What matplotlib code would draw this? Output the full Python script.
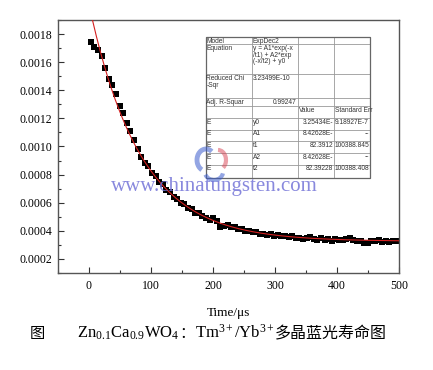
import numpy as np
import matplotlib
matplotlib.use('Agg')
from matplotlib import pyplot as plt
from matplotlib.patches import Rectangle, Arc
from matplotlib.lines import Line2D
from matplotlib.ticker import MultipleLocator, FormatStrFormatter

plt.rcParams['mathtext.fontset'] = 'custom'
plt.rcParams['mathtext.rm'] = 'Liberation Serif'
plt.rcParams['mathtext.it'] = 'Liberation Serif:italic'
plt.rcParams['mathtext.bf'] = 'Liberation Serif:bold'

# 衰减数据 (单位 1e-4), 采样间隔约 5.8 us
intensity_e4 = [17.43, 17.08, 16.84, 16.44, 15.61, 14.79, 14.38, 13.77, 12.89, 12.35,
                11.64, 11.12, 10.46, 9.82, 9.22, 8.85, 8.58, 8.10, 7.90, 7.45,
                7.30, 6.92, 6.75, 6.40, 6.28, 6.00, 5.90, 5.62, 5.58, 5.30,
                5.25, 5.02, 4.90, 4.80, 4.88, 4.70, 4.30, 4.35, 4.42, 4.25,
                4.28, 4.12, 4.15, 3.98, 4.02, 3.90, 3.92, 3.80, 3.74, 3.68,
                3.80, 3.66, 3.72, 3.60, 3.65, 3.55, 3.60, 3.52, 3.50, 3.45,
                3.52, 3.55, 3.42, 3.38, 3.46, 3.35, 3.40, 3.30, 3.42, 3.36,
                3.32, 3.40, 3.52, 3.35, 3.28, 3.25, 3.10, 3.15, 3.30, 3.28,
                3.35, 3.22, 3.30, 3.20, 3.28, 3.25]
t_start, t_step = 3.0, 5.8

# ExpDec2 拟合参数
y0, A1, t1, A2, t2 = 3.25434e-4, 8.42628e-4, 82.3912, 8.42628e-4, 82.39228

table_rows = [
    ['Model', 'ExpDec2', '', ''],
    ['Equation', 'y = A1*exp(-x\n/t1) + A2*exp\n(-x/t2) + y0', '', ''],
    ['Reduced Chi\n-Sqr', '3.23499E-10', '', ''],
    ['Adj. R-Squar', '0.99247', '', ''],
    ['', '', 'Value', 'Standard Err'],
    ['E', 'y0', '3.25434E-', '9.18927E-7'],
    ['E', 'A1', '8.42628E-', '--'],
    ['E', 't1', '82.3912', '100388.845'],
    ['E', 'A2', '8.42628E-', '--'],
    ['E', 't2', '82.39228', '100388.408'],
]
right_cells = {(3, 1), (5, 2), (5, 3), (6, 2), (6, 3), (7, 2), (7, 3),
               (8, 2), (8, 3), (9, 2), (9, 3)}

W, H = 433, 370
fig = plt.figure(figsize=(W / 100, H / 100), dpi=100)
ax = fig.add_axes([58 / W, 1 - 273 / H, (399 - 58) / W, (273 - 20) / H])

x = t_start + t_step * np.arange(len(intensity_e4))
y = np.array(intensity_e4) * 1e-4
ax.plot(x, y, 's', color='black', markersize=4.0, markeredgewidth=0, zorder=2)

xf = np.linspace(0, 500, 500)
yf = y0 + A1 * np.exp(-xf / t1) + A2 * np.exp(-xf / t2)
ax.plot(xf, yf, color='#d42020', lw=0.8, zorder=3)

ax.set_xlim(-50, 500)
ax.set_ylim(0.0001, 0.0019)
ax.xaxis.set_major_locator(MultipleLocator(100))
ax.xaxis.set_minor_locator(MultipleLocator(50))
ax.yaxis.set_major_locator(MultipleLocator(0.0002))
ax.yaxis.set_minor_locator(MultipleLocator(0.0001))
ax.yaxis.set_major_formatter(FormatStrFormatter('%.4f'))
ax.tick_params(which='major', direction='in', length=4, width=0.8, color='#333')
ax.tick_params(which='minor', direction='in', length=2, width=0.8, color='#333')
ax.tick_params(axis='y', pad=4)
ax.tick_params(axis='x', pad=5)
for lab in ax.get_xticklabels() + ax.get_yticklabels():
    lab.set_family('Liberation Serif')
    lab.set_fontsize(8.5)
for s in ax.spines.values():
    s.set_color('#555')
    s.set_linewidth(1.0)
ax.set_xlabel('Time/μs', family='Liberation Serif', fontsize=9.5, labelpad=11)


def px(xp, yp):
    return xp / W, 1 - yp / H


# 参数表
col_x = [205.5, 251.7, 297.7, 334.0, 370.0]
row_y = [37.0, 44.3, 74.3, 98.0, 106.0, 118.0, 129.5, 141.0, 153.0, 164.5, 178.0]
fig.add_artist(Rectangle(px(col_x[0], row_y[-1]), (col_x[-1] - col_x[0]) / W,
                         (row_y[-1] - row_y[0]) / H, transform=fig.transFigure,
                         facecolor='white', edgecolor='none', zorder=4))
for xx in col_x:
    fig.add_artist(Line2D([xx / W, xx / W], [1 - row_y[0] / H, 1 - row_y[-1] / H],
                          transform=fig.transFigure, color='#999', lw=0.6, zorder=5))
for yy in row_y:
    fig.add_artist(Line2D([col_x[0] / W, col_x[-1] / W], [1 - yy / H, 1 - yy / H],
                          transform=fig.transFigure, color='#999', lw=0.6, zorder=5))
fig.add_artist(Rectangle(px(col_x[0], row_y[-1]), (col_x[-1] - col_x[0]) / W,
                         (row_y[-1] - row_y[0]) / H, transform=fig.transFigure,
                         facecolor='none', edgecolor='#666', lw=0.9, zorder=6))
for i, row in enumerate(table_rows):
    for j, txt in enumerate(row):
        if not txt:
            continue
        if (i, j) in right_cells:
            xp, ha = col_x[j + 1] - 1.0, 'right'
        else:
            xp, ha = col_x[j] + 1.0, 'left'
        fig.text(*px(xp, row_y[i] + 0.6), txt, ha=ha, va='top',
                 family='Liberation Sans', fontsize=4.8, color='#333',
                 linespacing=0.95, zorder=7)

# 水印 logo (两道弧线)
fig.add_artist(Arc(px(206, 160), 18 / W, 22 / H, theta1=60, theta2=250,
                   transform=fig.transFigure, color='#3a5ccc', lw=3.5, alpha=0.55, zorder=8))
fig.add_artist(Arc(px(214, 172), 18 / W, 16 / H, theta1=200, theta2=350,
                   transform=fig.transFigure, color='#3a5ccc', lw=3.0, alpha=0.55, zorder=8))
fig.add_artist(Arc(px(218, 160), 16 / W, 20 / H, theta1=-60, theta2=90,
                   transform=fig.transFigure, color='#d84050', lw=3.0, alpha=0.5, zorder=8))

# 水印文字
fig.text(*px(214, 186), 'www.chinatungsten.com', ha='center', va='center',
         family='Liberation Serif', fontsize=15, color='#7474d8', alpha=0.85, zorder=8)

# 图注
renderer = fig.canvas.get_renderer()


def chain(pieces, x_px, base_px):
    xc = x_px
    for s, fam, size in pieces:
        t = fig.text(*px(xc, base_px), s, ha='left', va='baseline', family=fam,
                     fontsize=size, color='black')
        xc += t.get_window_extent(renderer=renderer).width


cjk = ['Noto Sans CJK SC', 'DejaVu Sans']
chain([('图', cjk, 11)], 30, 338)
chain([('Zn$_{0.1}$Ca$_{0.9}$WO$_4$', 'Liberation Serif', 12),
       ('：', cjk, 11),
       ('Tm$^{3+}$/Yb$^{3+}$', 'Liberation Serif', 12),
       ('多晶蓝光寿命图', cjk, 11.5)], 77, 338)

fig.savefig('out.png', dpi=100)
